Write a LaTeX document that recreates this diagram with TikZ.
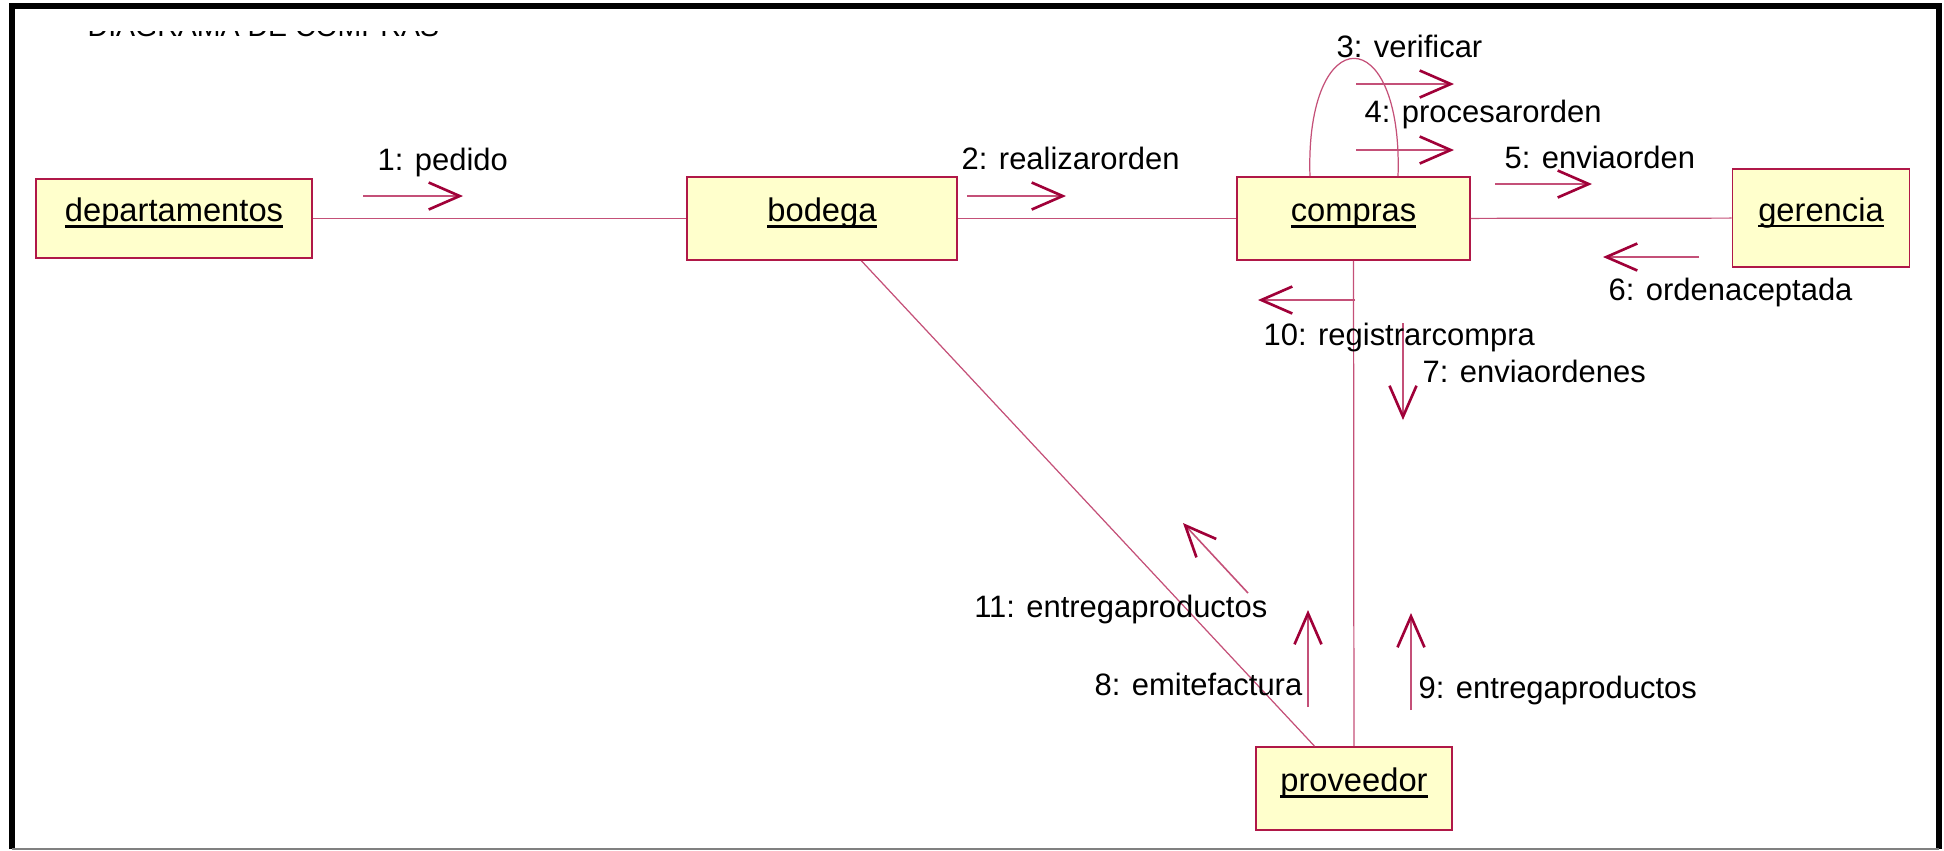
\documentclass[tikz,border=0pt]{standalone}
\usepackage{fontspec}
\setmainfont{Liberation Sans}
\usetikzlibrary{arrows.meta}
\definecolor{objline}{RGB}{176,24,72}
\definecolor{objfill}{RGB}{255,255,204}
\definecolor{linkcol}{RGB}{196,80,120}
\definecolor{msgcol}{RGB}{160,0,56}
% object names: thick underline just below the baseline
\newcommand{\objname}[1]{\setbox0\hbox{#1}\rlap{\rule[-0.06cm]{\wd0}{0.6pt}}\box0}

\begin{document}
\begin{tikzpicture}[x=0.01cm,y=-0.01cm,
  obj/.style={draw=objline,fill=objfill,line width=0.45pt,inner sep=0pt,
    text height=0.27cm,text depth=0.21cm,font=\fontsize{9.3}{11}\selectfont},
  link/.style={draw=linkcol,line width=0.35pt},
  msg/.style={draw=linkcol,line width=0.45pt,
    -{Straight Barb[length=0.31cm,width=0.27cm,line width=0.75pt,color=msgcol]}},
  msgtext/.style={anchor=base west,inner sep=0pt,font=\fontsize{8.8}{10}\selectfont}]
\useasboundingbox (0,0) rectangle (1944,850);

%title, only its lower edge shows
\node[anchor=base west,inner sep=0pt,font=\fontsize{8.1}{10}\selectfont] (title) at (87,36.5) {DIAGRAMA DE COMPRAS};
\fill[white] (15,9) rectangle (1936,31);

%frame
\draw[line width=0.06cm,line join=miter] (12,849) -- (12,6) -- (1939,6) -- (1939,849);
\draw[gray,line width=0.02cm] (12,849) -- (1939,849);

%objects
\node[obj,minimum width=2.76cm,minimum height=0.79cm] (dep) at (174,218.5) {\objname{departamentos}};
\node[obj,minimum width=2.70cm,minimum height=0.83cm] (bod) at (822,218.5) {\objname{bodega}};
\node[obj,minimum width=2.33cm,minimum height=0.83cm] (comp) at (1353.5,218.5) {\objname{compras}};
\node[obj,minimum width=1.77cm,minimum height=0.98cm] (ger) at (1821,218) {\objname{gerencia}};
\node[obj,minimum width=1.96cm,minimum height=0.83cm] (prov) at (1354,788.5) {\objname{proveedor}};

%links
\draw[link] (dep) -- (bod);
\draw[link] (bod) -- (comp);
\draw[link] (comp) -- (ger);
\draw[link] (comp) -- (prov);
\draw[link] (bod) -- (prov);
\draw[link] ([xshift=-0.435cm]comp.north) .. controls ([xshift=-0.485cm,yshift=1.57cm]comp.north)
  and ([xshift=0.495cm,yshift=1.57cm]comp.north) .. ([xshift=0.445cm]comp.north); %self link

%messages
\draw[msg] (363,196) -- (463,196);
\node[msgtext] (m1) at (377,170) {1: pedido};
\draw[msg] (967,196) -- (1066,196);
\node[msgtext] (m2) at (961,169) {2: realizarorden};
\draw[msg] (1356,84) -- (1454,84);
\node[msgtext] (m3) at (1336,57) {3: verificar};
\draw[msg] (1356,150) -- (1454,150);
\node[msgtext] (m4) at (1364,122) {4: procesarorden};
\draw[msg] (1495,184) -- (1592,184);
\node[msgtext] (m5) at (1504,168) {5: enviaorden};
\draw[msg] (1699,257) -- (1603,257);
\node[msgtext] (m6) at (1608,300) {6: ordenaceptada};
\draw[msg] (1403,323) -- (1403,420);
\node[msgtext] (m7) at (1422,382) {7: enviaordenes};
\draw[msg] (1308,707) -- (1308,610);
\node[msgtext] (m8) at (1094,695) {8: emitefactura};
\draw[msg] (1411,710) -- (1411,613);
\node[msgtext] (m9) at (1418,698) {9: entregaproductos};
\draw[msg] (1355,300) -- (1258,300);
\node[msgtext] (m10) at (1263,345) {10: registrarcompra};
\draw[msg] (1248,593) -- (1183,523);
\node[msgtext,anchor=base east] (m11) at (1268,617) {11: entregaproductos};

\end{tikzpicture}
\end{document}
